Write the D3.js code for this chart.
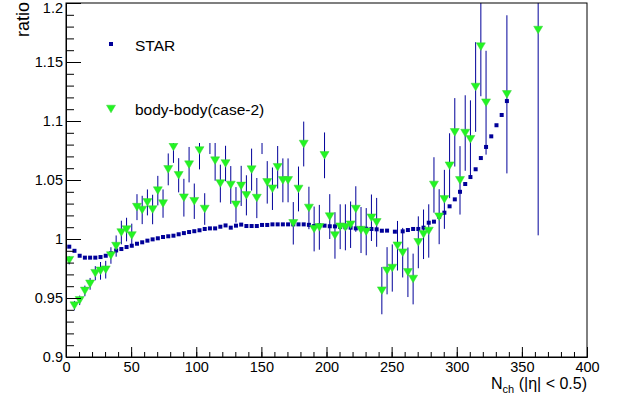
<!DOCTYPE html>
<html><head><meta charset="utf-8">
<script src="https://cdn.jsdelivr.net/npm/d3@7"></script>
<style>body{margin:0;background:#fff;} svg{display:block;} text{font-family:"Liberation Sans",Arial,Helvetica,sans-serif;fill:#000;}</style>
</head><body>
<svg id="c" width="618" height="404"></svg>
<script>
const starX = [2.5,6.5,10.5,14.5,18.5,22.5,26.5,30.5,34.5,38.5,42.5,46.5,50.5,54.5,58.5,62.5,66.5,70.5,74.5,78.5,82.5,86.5,90.5,94.5,98.5,102.5,106.5,110.5,114.5,118.5,122.5,126.5,130.5,134.5,138.5,142.5,146.5,150.5,154.5,158.5,162.5,166.5,170.5,174.5,178.5,182.5,186.5,190.5,194.5,198.5,202.5,206.5,210.5,214.5,218.5,222.5,226.5,230.5,234.5,238.5,242.5,246.5,252.5,258.5,262.5,266.5,270.5,274.5,278.5,282.5,286.5,290.5,294.5,298.5,302.5,306.5,310.5,314.5,318.5,322.5,326.5,330.5,334.5,338.5];
const starY = [0.9935,0.990,0.9858,0.9842,0.9842,0.9842,0.9847,0.9858,0.9879,0.9903,
0.9915,0.9932,0.9943,0.996,0.9972,0.9986,0.9997,1.0006,1.0017,1.0023,
1.0028,1.004,1.005,1.0059,1.0066,1.0074,1.0085,1.009,1.009,1.0104,
1.0115,1.0096,1.0113,1.0122,1.011,1.011,1.011,1.0119,1.0119,1.0124,
1.0124,1.0124,1.0124,1.0124,1.0124,1.0124,1.012,1.011,1.0116,1.0113,
1.0108,1.0107,1.0102,1.0099,1.0096,1.009,1.009,1.0087,1.0085,1.0082,
1.007,1.0071,1.0062,
1.0065,1.0076,1.0085,1.0085,1.0096,1.0138,1.0147,1.0189,1.0223,1.0277,1.0336,1.040,1.0466,1.0525,1.0591,1.0686,1.078,1.087,1.0964,1.1051,1.1169];

const bbX = [2.5,6.5,10.5,14.5,18.5,22.5,26.5,30.5,34.5,38.5,42.5,46.5,50.5,54.5,58.5,62.5,66.5,70.5,74.5,78.5,82.5,86.5,90.5,94.5,98.5,102.5,106.5,110.5,114.5,118.5,122.5,126.5,130.5,134.5,138.5,142.5,146.5,150.5,154.5,158.5,162.5,166.5,170.5,174.5,178.5,182.5,186.5,190.5,194.5,198.5,202.5,206.5,210.5,214.5,218.5,222.5,226.5,230.5,234.5,238.5,242.5,246.5,250.5,254.5,258.5,262.5,266.5,270.5,274.5,278.5,282.5,286.5,290.5,294.5,298.5,302.5,306.5,310.5,314.5,318.5,322.5,338.5,362.5];
const bbY = [0.982,0.9435,0.948,0.956,0.962,0.971,0.973,0.974,0.986,0.994,
1.0055,1.008,1.003,1.027,1.0246,1.031,1.025,1.041,1.030,1.059,
1.078,1.054,1.035,1.063,1.032,1.075,1.0254,1.088,1.0664,1.047,
1.064,1.0458,1.029,1.045,1.037,1.0588,1.0347,1.088,1.048,1.0426,
1.0608,1.0497,1.0497,1.0133,1.0424,1.0805,1.0263,1.0085,1.0099,1.0709,
1.019,1.003,1.0104,1.0099,1.0121,1.0254,1.0076,1.0062,1.018,1.0141,
0.9562,0.9731,0.9754,0.9943,0.9884,0.9718,0.9661,0.9972,1.004,1.0068,
1.0458,1.0189,1.0336,1.0621,1.0904,1.0497,1.0898,1.0845,1.1288,1.163,
1.1155,1.1226,1.1771];
const bbErr = [0.0035,0.004,0.004,0.0045,0.005,0.006,0.0075,0.0075,0.007,0.009,
0.010,0.010,0.010,0.011,0.012,0.011,0.0125,0.0125,0.012,0.0135,
0.0135,0.0145,0.016,0.015,0.015,0.016,0.0134,0.016,0.017,0.016,
0.015,0.016,0.015,0.017,0.017,0.0178,0.017,0.016,0.018,0.018,
0.018,0.0186,0.0186,0.018,0.019,0.019,0.018,0.019,0.019,0.0194,
0.019,0.0197,0.019,0.0195,0.0197,0.0193,0.0195,0.020,0.0197,0.0207,
0.020,0.020,0.020,0.021,0.021,0.021,0.0215,0.022,0.021,0.0226,
0.0235,0.0233,0.025,0.0275,0.029,0.029,0.032,0.033,0.038,0.042,
0.044,0.067,0.174];

const xTicks = [0,50,100,150,200,250,300,350,400];
const yTicks = [0.9,0.95,1,1.05,1.1,1.15,1.2];
const yTickLabels = ["0.9","0.95","1","1.05","1.1","1.15","1.2"];
const legendLabels = ["STAR","body-body(case-2)"];

const svg = d3.select("#c");
const L=66,R=587,T=3,B=357;
const x = d3.scaleLinear().domain([0,400]).range([L,R]);
const y = d3.scaleLinear().domain([0.9,1.2]).range([B,T]);
const navy="#000099", green="#22f522";

svg.append("defs").append("clipPath").attr("id","pc")
  .append("rect").attr("x",L).attr("y",T).attr("width",R-L).attr("height",B-T);

const plot = svg.append("g").attr("clip-path","url(#pc)");

plot.selectAll("rect.star").data(starX.map((v,i)=>[v,starY[i]])).enter()
  .append("rect").attr("class","star")
  .attr("x",d=>x(d[0])-2).attr("y",d=>y(d[1])-2).attr("width",4).attr("height",4)
  .attr("fill",navy);

const bb = bbX.map((v,i)=>[v,bbY[i],bbErr[i]]);
plot.selectAll("line.err").data(bb).enter().append("line").attr("class","err")
  .attr("x1",d=>x(d[0])).attr("x2",d=>x(d[0]))
  .attr("y1",d=>y(d[1]+d[2])).attr("y2",d=>y(d[1]-d[2]))
  .attr("stroke",navy).attr("stroke-width",1);
const tri = "M-4.5,-3.8L4.5,-3.8L0,3.8Z";
plot.selectAll("path.bb").data(bb).enter().append("path").attr("class","bb")
  .attr("d",tri).attr("transform",d=>`translate(${x(d[0])},${y(d[1])})`)
  .attr("fill",green).attr("stroke","#3ad03a").attr("stroke-width",0.5);

const lg = svg.append("g");
lg.append("rect").attr("x",92).attr("y",18).attr("width",206).attr("height",125).attr("fill","#fff");
lg.append("rect").attr("x",109).attr("y",42).attr("width",4).attr("height",4).attr("fill",navy);
lg.append("text").attr("x",135).attr("y",51).attr("font-size",15.5).text(legendLabels[0]);
lg.append("path").attr("d",tri).attr("transform","translate(111,109)").attr("fill",green).attr("stroke","#3ad03a").attr("stroke-width",0.5);
lg.append("text").attr("x",135).attr("y",115).attr("font-size",15.5).text(legendLabels[1]);

svg.append("rect").attr("x",L).attr("y",T).attr("width",R-L).attr("height",B-T)
  .attr("fill","none").attr("stroke","#000").attr("stroke-width",1);

const xMinor = d3.range(0,401,10);
const gxm = svg.append("g").attr("transform",`translate(0,${B})`)
  .call(d3.axisBottom(x).tickValues(xMinor).tickSize(-5).tickFormat(""));
gxm.select(".domain").remove();
const gx = svg.append("g").attr("transform",`translate(0,${B})`)
  .call(d3.axisBottom(x).tickValues(xTicks).tickSize(-10).tickPadding(5).tickFormat(d=>String(d)));
gx.select(".domain").attr("stroke","#000");
gx.selectAll("text").attr("font-size",14.5).attr("font-family","Liberation Sans, Arial, sans-serif");

const yMinor = d3.range(0,31).map(i=>0.9+i*0.01);
const gym = svg.append("g").attr("transform",`translate(${L},0)`)
  .call(d3.axisLeft(y).tickValues(yMinor).tickSize(-8).tickFormat(""));
gym.select(".domain").remove();
const gy = svg.append("g").attr("transform",`translate(${L},0)`)
  .call(d3.axisLeft(y).tickValues(yTicks).tickSize(-15).tickPadding(3).tickFormat((d,i)=>yTickLabels[i]));
gy.select(".domain").attr("stroke","#000");
gy.selectAll("text").attr("font-size",14.5).attr("font-family","Liberation Sans, Arial, sans-serif")
  .attr("dy",(d,i)=> i===yTicks.length-1 ? "0.66em" : "0.32em");

const xt = svg.append("text").attr("x",R).attr("y",389).attr("text-anchor","end").attr("font-size",16);
xt.append("tspan").text("N");
xt.append("tspan").attr("dy",4).attr("font-size",11).text("ch");
xt.append("tspan").attr("dy",-4).text(" (|η| < 0.5)");

svg.append("text").attr("transform","translate(29,2) rotate(-90)").attr("text-anchor","end")
  .attr("font-size",18).text("ratio");
</script>
</body></html>
